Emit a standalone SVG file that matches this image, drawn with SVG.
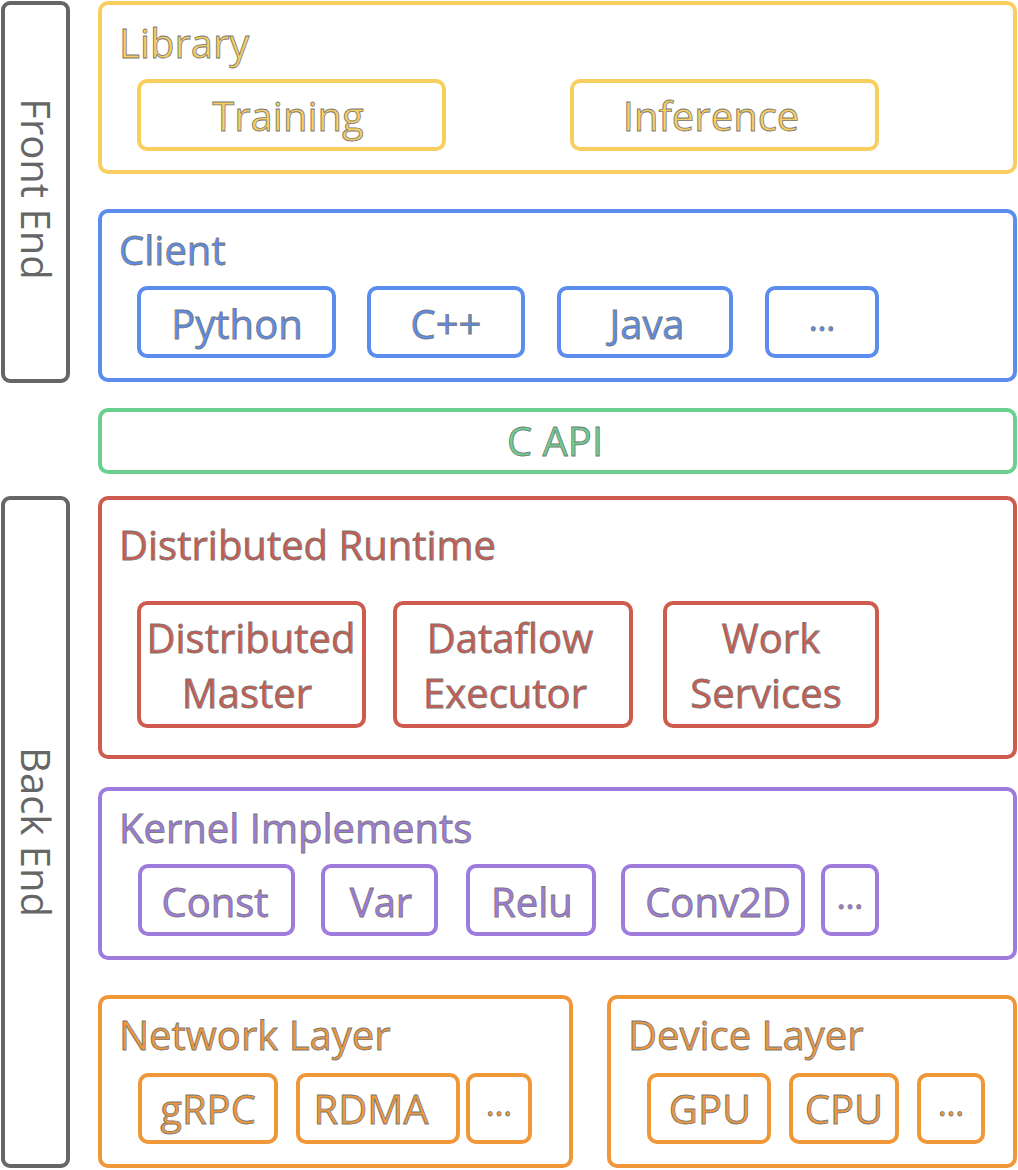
<svg xmlns="http://www.w3.org/2000/svg" width="1018" height="1170" viewBox="0 0 1018 1170">
<style>
rect{fill:#fff;stroke-width:4}
text{font-family:"Open Sans","Noto Sans",sans-serif;font-size:40px;stroke:#777;stroke-width:0.8}
.c{text-anchor:middle}
.side rect{stroke:#666}
.side text{fill:#666;stroke:none;font-size:40px}
.lib rect{stroke:#F8CF5F}.lib text{fill:#F8CF5F}
.cli rect{stroke:#5B8DEF}.cli text{fill:#5B8DEF}
.api rect{stroke:#6ACF8F}.api text{fill:#6ACF8F}
.dr rect{stroke:#CF5B4F}.dr text{fill:#CF5B4F}
.ki rect{stroke:#A07BDE}.ki text{fill:#A07BDE}
.or rect{stroke:#F0973A}.or text{fill:#F0973A}
.m{font-size:34px}
</style>
<g id="front-end" class="side"><rect x="3" y="3" width="65" height="378" rx="7"/><text class="c" transform="translate(35,189) rotate(90)" y="14">Front End</text></g>
<g id="back-end" class="side"><rect x="3" y="498" width="65" height="668" rx="7"/><text class="c" transform="translate(35,832) rotate(90)" y="14">Back End</text></g>
<g id="library" class="lib">
<rect x="100" y="3" width="915" height="169" rx="8"/>
<text x="119" y="58">Library</text>
<g id="training"><rect x="139" y="81" width="305" height="68" rx="8"/><text class="c" x="288" y="131">Training</text></g>
<g id="inference"><rect x="572" y="81" width="305" height="68" rx="8"/><text class="c" x="711" y="131">Inference</text></g>
</g>
<g id="client" class="cli">
<rect x="100" y="211" width="915" height="169" rx="8"/>
<text x="119" y="265">Client</text>
<g id="python"><rect x="139" y="288" width="195" height="68" rx="8"/><text class="c" x="237" y="339">Python</text></g>
<g id="cpp"><rect x="369" y="288" width="154" height="68" rx="8"/><text class="c" x="446" y="339">C++</text></g>
<g id="java"><rect x="559" y="288" width="172" height="68" rx="8"/><text class="c" x="647" y="339">Java</text></g>
<g id="client-more"><rect x="767" y="288" width="110" height="68" rx="8"/><text class="c m" x="822" y="331">…</text></g>
</g>
<g id="c-api" class="api"><rect x="100" y="410" width="915" height="62" rx="8"/><text class="c" x="555" y="456">C API</text></g>
<g id="distributed-runtime" class="dr">
<rect x="100" y="498" width="915" height="259" rx="8"/>
<text x="119" y="560">Distributed Runtime</text>
<g id="distributed-master"><rect x="139" y="603" width="225" height="123" rx="8"/><text class="c" x="251" y="653">Distributed</text><text class="c" x="247" y="708">Master</text></g>
<g id="dataflow-executor"><rect x="395" y="603" width="236" height="123" rx="8"/><text class="c" x="510" y="653">Dataflow</text><text class="c" x="505" y="708">Executor</text></g>
<g id="work-services"><rect x="665" y="603" width="212" height="123" rx="8"/><text class="c" x="771" y="653">Work</text><text class="c" x="766" y="708">Services</text></g>
</g>
<g id="kernel-implements" class="ki">
<rect x="100" y="789" width="915" height="169" rx="8"/>
<text x="119" y="843">Kernel Implements</text>
<g id="const"><rect x="140" y="866" width="153" height="68" rx="8"/><text class="c" x="215" y="917">Const</text></g>
<g id="var"><rect x="323" y="866" width="113" height="68" rx="8"/><text class="c" x="381" y="917">Var</text></g>
<g id="relu"><rect x="468" y="866" width="126" height="68" rx="8"/><text class="c" x="532" y="917">Relu</text></g>
<g id="conv2d"><rect x="623" y="866" width="180" height="68" rx="8"/><text class="c" x="718" y="917">Conv2D</text></g>
<g id="kernel-more"><rect x="823" y="866" width="54" height="68" rx="8"/><text class="c m" x="850" y="909">…</text></g>
</g>
<g id="network-layer" class="or">
<rect x="100" y="997" width="471" height="169" rx="8"/>
<text x="119" y="1050">Network Layer</text>
<g id="grpc"><rect x="140" y="1075" width="136" height="67" rx="8"/><text class="c" x="208" y="1124">gRPC</text></g>
<g id="rdma"><rect x="298" y="1075" width="160" height="67" rx="8"/><text class="c" x="371" y="1124">RDMA</text></g>
<g id="network-more"><rect x="468" y="1075" width="62" height="67" rx="8"/><text class="c m" x="499" y="1116">…</text></g>
</g>
<g id="device-layer" class="or">
<rect x="609" y="997" width="406" height="169" rx="8"/>
<text x="628" y="1050">Device Layer</text>
<g id="gpu"><rect x="649" y="1075" width="120" height="67" rx="8"/><text class="c" x="710" y="1124">GPU</text></g>
<g id="cpu"><rect x="791" y="1075" width="106" height="67" rx="8"/><text class="c" x="844" y="1124">CPU</text></g>
<g id="device-more"><rect x="919" y="1075" width="64" height="67" rx="8"/><text class="c m" x="951" y="1116">…</text></g>
</g>
<g id="connectors"/>
</svg>
